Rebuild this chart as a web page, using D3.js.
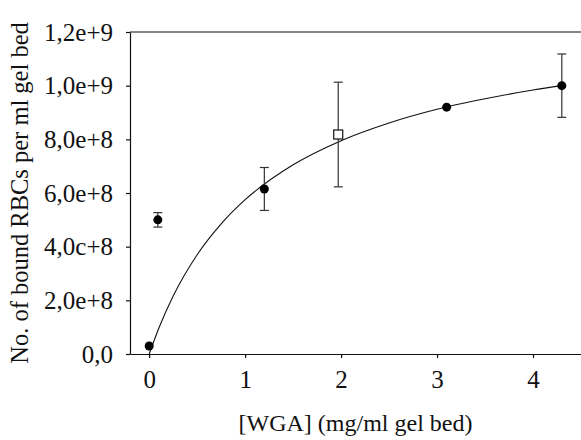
<!DOCTYPE html>
<html>
<head>
<meta charset="utf-8">
<script src="https://cdn.jsdelivr.net/npm/d3@7"></script>
<style>
  body { margin: 0; background: #fff; }
</style>
</head>
<body>
<script>
// data
var pointX   = [0, 0.09, 1.2, 3.1, 4.3];
var pointY   = [3.0e7, 5.0e8, 6.15e8, 9.2e8, 1.0e9];
var pointErr = [0, 2.7e7, 8.0e7, 0, 1.18e8];

var squareX = [1.97];
var squareY = [8.18e8];
var squareErr = [1.95e8];

// fitted curve
var curveX = [0, 0.1, 0.25, 0.5, 0.75, 1.0, 1.5, 2.0, 2.5, 3.0, 3.5, 4.0, 4.3];
var curveY = [0, 0.96e8, 2.16e8, 3.7e8, 4.85e8, 5.75e8, 7.05e8, 7.95e8, 8.61e8, 9.12e8, 9.51e8, 9.84e8, 1.0e9];

var xTicks = [0, 1, 2, 3, 4];
var yTicks = [0, 2e8, 4e8, 6e8, 8e8, 1e9, 1.2e9];
var yTickLabels = ["0,0", "2,0e+8", "4,0c+8", "6,0e+8", "8,0e+8", "1,0e+9", "1,2e+9"];

var width = 581, height = 440;
var margin = {top: 32, right: 0, bottom: 86, left: 130};
var serif = "'Liberation Serif', 'Times New Roman', serif";

var svg = d3.select("body").append("svg")
    .attr("width", width)
    .attr("height", height);

var x = d3.scaleLinear().domain([-0.2, 4.5]).range([margin.left, width - margin.right]);
var y = d3.scaleLinear().domain([0, 1.2e9]).range([height - margin.bottom, margin.top]);

// x axis
var xAxis = svg.append("g")
    .attr("transform", "translate(0," + y(0) + ")")
    .call(d3.axisBottom(x).tickValues(xTicks).tickSize(4).tickSizeOuter(0).tickPadding(12)
      .tickFormat(d3.format("d")));
xAxis.attr("font-family", serif);
xAxis.selectAll("text").style("font-family", serif).style("font-size", "25px").attr("fill", "#111");

// y axis
var yAxis = svg.append("g")
    .attr("transform", "translate(" + margin.left + ",0)")
    .call(d3.axisLeft(y).tickValues(yTicks).tickSize(4).tickSizeOuter(0).tickPadding(13)
      .tickFormat(function(d, i) { return yTickLabels[i]; }));
yAxis.attr("font-family", serif);
yAxis.selectAll("text").style("font-family", serif).style("font-size", "25px")
    .attr("dy", "0.33em").attr("fill", "#111");

svg.selectAll(".domain, .tick line").attr("stroke", "#111").attr("stroke-width", 1.2);

// top rule
svg.append("line")
    .attr("x1", margin.left).attr("x2", width)
    .attr("y1", y(1.2e9)).attr("y2", y(1.2e9))
    .attr("stroke", "#111").attr("stroke-width", 1.2);

// curve
var line = d3.line()
    .x(function(d) { return x(d[0]); })
    .y(function(d) { return y(d[1]); })
    .curve(d3.curveMonotoneX);

svg.append("path")
    .datum(curveX.map(function(v, i) { return [v, curveY[i]]; }))
    .attr("d", line)
    .attr("fill", "none")
    .attr("stroke", "#111")
    .attr("stroke-width", 1.1);

// error bars
function errorBars(xs, ys, es) {
  xs.forEach(function(v, i) {
    if (!es[i]) return;
    var g = svg.append("g").attr("stroke", "#333").attr("stroke-width", 1.2);
    g.append("line").attr("x1", x(v)).attr("x2", x(v))
      .attr("y1", y(ys[i] - es[i])).attr("y2", y(ys[i] + es[i]));
    [ys[i] - es[i], ys[i] + es[i]].forEach(function(e) {
      g.append("line").attr("x1", x(v) - 4.5).attr("x2", x(v) + 4.5)
        .attr("y1", y(e)).attr("y2", y(e));
    });
  });
}
errorBars(pointX, pointY, pointErr);
errorBars(squareX, squareY, squareErr);

// filled circles
svg.selectAll("circle.pt")
  .data(pointX)
  .enter().append("circle")
    .attr("class", "pt")
    .attr("cx", function(d) { return x(d); })
    .attr("cy", function(d, i) { return y(pointY[i]); })
    .attr("r", 4.5)
    .attr("fill", "#000");

// open square
svg.selectAll("rect.sq")
  .data(squareX)
  .enter().append("rect")
    .attr("class", "sq")
    .attr("x", function(d) { return x(d) - 4.5; })
    .attr("y", function(d, i) { return y(squareY[i]) - 4.5; })
    .attr("width", 9).attr("height", 9)
    .attr("fill", "#fff")
    .attr("stroke", "#111")
    .attr("stroke-width", 1.2);

// axis titles
svg.append("text")
    .attr("x", (x(-0.2) + width) / 2)
    .attr("y", 431)
    .attr("text-anchor", "middle")
    .attr("fill", "#111")
    .style("font-family", serif)
    .style("font-size", "24px")
    .text("[WGA] (mg/ml gel bed)");

svg.append("text")
    .attr("transform", "translate(28," + ((y(0) + y(1.2e9)) / 2) + ") rotate(-90)")
    .attr("text-anchor", "middle")
    .attr("fill", "#111")
    .style("font-family", serif)
    .style("font-size", "24.5px")
    .text("No. of bound RBCs per ml gel bed");
</script>
</body>
</html>
